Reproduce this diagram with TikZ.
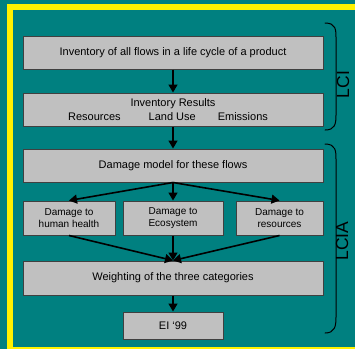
\documentclass[tikz,border=0pt]{standalone}
\usepackage{fontspec}
\setmainfont{Liberation Sans}
\usetikzlibrary{positioning}
\usetikzlibrary{arrows.meta}

\definecolor{slidebg}{RGB}{0,128,128}
\definecolor{boxgray}{RGB}{192,192,192}
\definecolor{edgegray}{RGB}{64,64,64}

\begin{document}
\begin{tikzpicture}[x=1pt, y=-1pt,
    box/.style={draw=edgegray, fill=boxgray, line width=1pt, inner sep=0pt,
      align=center, font=\fontsize{11}{14}\selectfont},
    widebox/.style={box, minimum width=300pt, minimum height=33pt},
    smallbox/.style={box, minimum height=34pt, font=\fontsize{10}{12}\selectfont},
    flow/.style={line width=1.6pt, -{Triangle[length=8pt, width=9pt]}},
    brace/.style={line width=1pt, line cap=round},
    phase/.style={rotate=90, font=\fontsize{17.5}{18}\selectfont}]
  \useasboundingbox (0,0) rectangle (355,349);
  \fill[slidebg] (0,0) rectangle (355,349);
  % yellow frame, cut by the page on the right
  \fill[yellow] (7,4) rectangle (355,10);
  \fill[yellow] (7,4) rectangle (13,349);
  \fill[yellow] (7,347) rectangle (355,349);

  % the chain of boxes
  \node[widebox] (inv) at (173,52.5) {Inventory of all flows in a life cycle of a product};
  \node[widebox, below=23pt of inv] (res)
    {Inventory Results\\Resources\hspace{28pt}Land Use\hspace{22pt}Emissions\hspace{10pt}\null};
  \node[widebox, below=22pt of res] (dmg) {Damage model for these flows};
  \node[smallbox, minimum width=92pt, below right=18pt and 0pt of dmg.south west] (hh)
    {Damage to\\human health};
  \node[smallbox, minimum width=100pt, below=18pt of dmg] (eco) {Damage to\\Ecosystem};
  \node[smallbox, minimum width=87pt, below left=18pt and 0pt of dmg.south east] (rsc)
    {Damage to\\resources};
  \node[widebox, minimum height=34pt, below=25pt of eco.south -| dmg] (wgt)
    {Weighting of the three categories};
  \node[box, minimum width=100pt, minimum height=27pt, below=16pt of wgt] (ei) {EI `99};

  \draw[flow] (inv) -- (res);
  \draw[flow] (res) -- (dmg);
  \draw[flow] (dmg.south) -- (hh.north);
  \draw[flow] (dmg.south) -- (eco.north -| dmg);
  \draw[flow] (dmg.south) -- (rsc.north);
  \draw[flow] (hh.south) -- (wgt.north);
  \draw[flow] (eco.south -| wgt) -- (wgt.north);
  \draw[flow] (rsc.south) -- (wgt.north);
  \draw[flow] (wgt) -- (ei);

  % phase brackets
  \coordinate (lci top) at (325,23);
  \coordinate (lci bot) at (325,130);
  \coordinate (lcia top) at (325,144);
  \coordinate (lcia bot) at (325,333);
  \draw[brace] (lci top) .. controls (336,23) and (336,30) .. (336,38)
    -- (336,115) .. controls (336,124) and (335,130) .. (lci bot);
  \draw[brace] (lcia top) .. controls (336,144) and (336,151) .. (336,160)
    -- (336,317) .. controls (336,326) and (335,333) .. (lcia bot);
  \node[phase] (lci) at (343,84.5) {LCI};
  \node[phase] (lcia) at (342,241) {LCIA};
\end{tikzpicture}
\end{document}
